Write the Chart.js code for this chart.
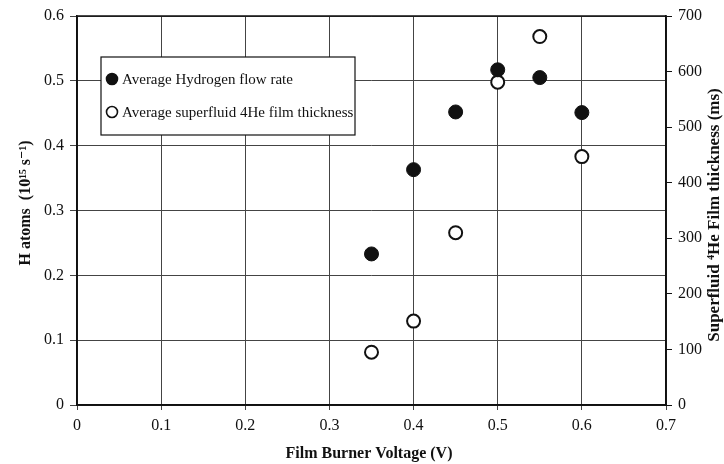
<!DOCTYPE html>
<html>
<head>
<meta charset="utf-8">
<script src="https://cdn.jsdelivr.net/npm/chart.js@4"></script>
<style>
  html, body { margin: 0; padding: 0; background: #fff; }
  #wrap { width: 724px; height: 464px; }
</style>
</head>
<body>
<div id="wrap"><canvas id="filmChart" width="724" height="464"></canvas></div>
<script>
// Données
const voltages = [0.35, 0.4, 0.45, 0.5, 0.55, 0.6];
const hydrogenRate = [0.233, 0.363, 0.452, 0.517, 0.505, 0.451];
const filmThickness = [95, 151, 310, 581, 663, 447];
const seriesLabels = ["Average Hydrogen flow rate", "Average superfluid 4He film thickness"];
const xTitle = "Film Burner Voltage (V)";
const leftTitle = "H atoms  (10\u00B9\u2075 s\u207B\u00B9)";
const rightTitle = "Superfluid \u2074He Film thickness (ms)";

const serif = "'Liberation Serif', 'DejaVu Serif', serif";

// Titres des axes, cadre et légende dessinés à la main
const decorPlugin = {
  id: "decor",
  afterDraw(chart) {
    const ctx = chart.ctx;
    const area = chart.chartArea;
    ctx.save();

    // cadre du graphique
    ctx.strokeStyle = "#111";
    ctx.lineWidth = 1.5;
    ctx.strokeRect(area.left, area.top, area.right - area.left, area.bottom - area.top);

    // titre axe x
    ctx.fillStyle = "#111";
    ctx.font = "bold 16px " + serif;
    ctx.textAlign = "center";
    ctx.textBaseline = "middle";
    ctx.fillText(xTitle, 369, 454);

    // titre axe gauche
    ctx.save();
    ctx.translate(26, 203);
    ctx.rotate(-Math.PI / 2);
    ctx.font = "bold 16px " + serif;
    ctx.fillText(leftTitle, 0, 0);
    ctx.restore();

    // titre axe droit
    ctx.save();
    ctx.translate(715, 215);
    ctx.rotate(-Math.PI / 2);
    ctx.font = "bold 17px " + serif;
    ctx.fillText(rightTitle, 0, 0);
    ctx.restore();

    // légende
    const lx = 101, ly = 57, lw = 254, lh = 78;
    ctx.fillStyle = "#fff";
    ctx.fillRect(lx, ly, lw, lh);
    ctx.strokeStyle = "#111";
    ctx.lineWidth = 1.2;
    ctx.strokeRect(lx, ly, lw, lh);

    ctx.font = "15px " + serif;
    ctx.textAlign = "left";
    const rows = [ly + 22, ly + 55];
    chart.data.datasets.forEach((ds, i) => {
      ctx.beginPath();
      ctx.arc(lx + 11, rows[i], 5.5, 0, Math.PI * 2);
      ctx.fillStyle = ds.backgroundColor;
      ctx.fill();
      ctx.lineWidth = 1.6;
      ctx.strokeStyle = "#111";
      ctx.stroke();
      ctx.fillStyle = "#111";
      ctx.fillText(seriesLabels[i], lx + 21, rows[i] + 1);
    });

    ctx.restore();
  }
};

document.addEventListener("DOMContentLoaded", () => {
  new Chart(document.getElementById("filmChart"), {
    type: "scatter",
    data: {
      datasets: [
        {
          label: seriesLabels[0],
          data: voltages.map((v, i) => ({ x: v, y: hydrogenRate[i] })),
          yAxisID: "y",
          backgroundColor: "#111",
          borderColor: "#111",
          borderWidth: 1,
          pointRadius: 7
        },
        {
          label: seriesLabels[1],
          data: voltages.map((v, i) => ({ x: v, y: filmThickness[i] })),
          yAxisID: "y2",
          backgroundColor: "#fff",
          borderColor: "#111",
          borderWidth: 2,
          pointRadius: 6.5
        }
      ]
    },
    options: {
      responsive: false,
      animation: false,
      layout: { padding: { top: 16, left: 0, right: 0, bottom: 0 } },
      plugins: { legend: { display: false }, tooltip: { enabled: false } },
      scales: {
        x: {
          type: "linear",
          min: 0, max: 0.7,
          afterFit(axis) { axis.height = 59; },
          ticks: {
            stepSize: 0.1,
            color: "#111",
            font: { family: serif, size: 16 },
            padding: 6,
            callback: v => String(Math.round(v * 10) / 10)
          },
          grid: { color: "#444", lineWidth: 1, tickLength: 5 },
          border: { color: "#111", width: 1.5 }
        },
        y: {
          position: "left",
          min: 0, max: 0.6,
          afterFit(axis) { axis.width = 77; },
          ticks: {
            stepSize: 0.1,
            color: "#111",
            font: { family: serif, size: 16 },
            padding: 6,
            callback: v => String(Math.round(v * 10) / 10)
          },
          grid: { color: "#444", lineWidth: 1, tickLength: 7 },
          border: { color: "#111", width: 1.5 }
        },
        y2: {
          position: "right",
          min: 0, max: 700,
          afterFit(axis) { axis.width = 58; },
          ticks: {
            stepSize: 100,
            color: "#111",
            font: { family: serif, size: 16 },
            padding: 6
          },
          grid: { drawOnChartArea: false, color: "#111", tickLength: 6 },
          border: { color: "#111", width: 1.5 }
        }
      }
    },
    plugins: [decorPlugin]
  });
});
</script>
</body>
</html>
